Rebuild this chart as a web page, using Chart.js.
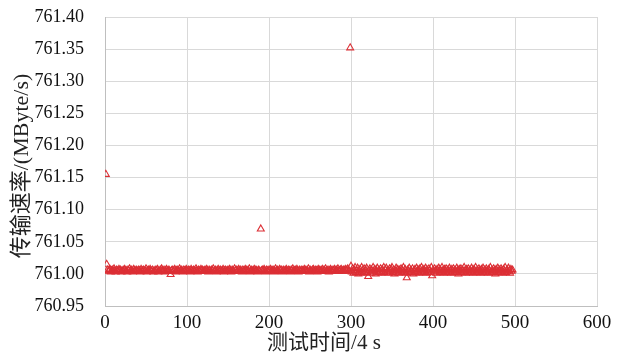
<!DOCTYPE html>
<html>
<head>
<meta charset="utf-8">
<script src="https://cdn.jsdelivr.net/npm/chart.js@4.4.1/dist/chart.umd.min.js"></script>
<style>
  html, body { margin: 0; padding: 0; background: #fff; }
  #wrap { width: 619px; height: 356px; position: relative; }
</style>
</head>
<body>
<div id="wrap"><canvas id="rateChart"></canvas></div>
<script>
// transfer rate per sample (MByte/s), samples 1..497
const rateValues = [
  761.155, 761.015, 761.006, 761.004, 761.005, 761.007, 761.003, 761.005, 761.006, 761.004, 761.008, 761.005, 761.003, 761.006, 761.005, 761.004, 761.007, 761.005, 761.006, 761.003,
  761.005, 761.004, 761.006, 761.007, 761.004, 761.005, 761.003, 761.006, 761.005, 761.008, 761.004, 761.006, 761.005, 761.003, 761.007, 761.005, 761.004, 761.006, 761.005, 761.004,
  761.006, 761.005, 761.003, 761.007, 761.004, 761.005, 761.006, 761.004, 761.005, 761.008, 761.003, 761.005, 761.006, 761.004, 761.007, 761.005, 761.004, 761.006, 761.003, 761.005,
  761.004, 761.006, 761.005, 761.007, 761.003, 761.005, 761.004, 761.006, 761.008, 761.005, 761.004, 761.006, 761.003, 761.005, 761.007, 761.004, 761.005, 761.006, 761.004, 760.999,
  761.005, 761.006, 761.004, 761.005, 761.007, 761.003, 761.005, 761.006, 761.004, 761.005, 761.008, 761.004, 761.006, 761.005, 761.003, 761.006, 761.005, 761.004, 761.007, 761.005,
  761.004, 761.006, 761.005, 761.003, 761.007, 761.005, 761.004, 761.006, 761.005, 761.004, 761.008, 761.005, 761.003, 761.006, 761.005, 761.004, 761.007, 761.005, 761.006, 761.004,
  761.005, 761.006, 761.004, 761.007, 761.005, 761.003, 761.006, 761.005, 761.004, 761.006, 761.005, 761.008, 761.004, 761.005, 761.006, 761.003, 761.005, 761.007, 761.004, 761.005,
  761.006, 761.004, 761.005, 761.007, 761.003, 761.005, 761.006, 761.004, 761.005, 761.006, 761.004, 761.007, 761.005, 761.003, 761.006, 761.005, 761.004, 761.008, 761.005, 761.006,
  761.004, 761.005, 761.007, 761.004, 761.006, 761.005, 761.003, 761.006, 761.005, 761.004, 761.007, 761.005, 761.006, 761.004, 761.005, 761.008, 761.003, 761.005, 761.006, 761.004,
  761.005, 761.007, 761.004, 761.006, 761.005, 761.003, 761.006, 761.005, 761.004, 761.070, 761.005, 761.006, 761.004, 761.007, 761.005, 761.003, 761.006, 761.005, 761.004, 761.006,
  761.005, 761.007, 761.004, 761.005, 761.006, 761.003, 761.005, 761.008, 761.004, 761.006, 761.005, 761.004, 761.007, 761.005, 761.006, 761.003, 761.005, 761.006, 761.004, 761.005,
  761.007, 761.005, 761.004, 761.006, 761.005, 761.003, 761.006, 761.005, 761.008, 761.004, 761.005, 761.006, 761.004, 761.007, 761.005, 761.003, 761.006, 761.005, 761.004, 761.006,
  761.005, 761.004, 761.007, 761.005, 761.006, 761.004, 761.005, 761.008, 761.003, 761.006, 761.005, 761.004, 761.006, 761.007, 761.005, 761.004, 761.006, 761.005, 761.003, 761.007,
  761.005, 761.006, 761.004, 761.005, 761.007, 761.004, 761.006, 761.005, 761.008, 761.004, 761.005, 761.006, 761.003, 761.005, 761.007, 761.005, 761.004, 761.006, 761.005, 761.007,
  761.004, 761.006, 761.005, 761.008, 761.004, 761.005, 761.006, 761.007, 761.004, 761.005, 761.006, 761.004, 761.007, 761.005, 761.006, 761.008, 761.005, 761.004, 761.352, 761.012,
  761.003, 761.008, 761.001, 761.006, 761.010, 761.002, 761.005, 761.009, 761.000, 761.004, 761.007, 761.002, 761.010, 761.005, 761.001, 761.008, 761.003, 761.006, 761.009, 761.002,
  760.996, 761.005, 761.008, 761.001, 761.006, 761.003, 761.010, 761.004, 761.007, 761.000, 761.005, 761.009, 761.002, 761.006, 761.003, 761.008, 761.001, 761.007, 761.004, 761.010,
  761.002, 761.006, 761.009, 761.003, 761.005, 761.001, 761.008, 761.004, 761.007, 761.010, 761.002, 761.006, 761.000, 761.005, 761.009, 761.003, 761.007, 761.001, 761.006, 761.004,
  761.008, 761.002, 761.005, 761.010, 761.003, 761.007, 761.001, 760.994, 761.006, 761.004, 761.009, 761.002, 761.006, 761.003, 761.008, 761.000, 761.005, 761.007, 761.002, 761.009,
  761.004, 761.006, 761.001, 761.008, 761.003, 761.010, 761.005, 761.002, 761.007, 761.004, 761.009, 761.001, 761.006, 761.003, 761.008, 761.005, 761.002, 761.010, 760.997, 761.006,
  761.003, 761.008, 761.005, 761.001, 761.007, 761.004, 761.009, 761.002, 761.006, 761.003, 761.010, 761.005, 761.001, 761.007, 761.004, 761.008, 761.002, 761.006, 761.003, 761.009,
  761.005, 761.001, 761.007, 761.004, 761.008, 761.002, 761.006, 761.003, 761.009, 761.005, 761.000, 761.007, 761.004, 761.008, 761.002, 761.006, 761.003, 761.010, 761.005, 761.001,
  761.007, 761.004, 761.008, 761.002, 761.006, 761.003, 761.009, 761.005, 761.001, 761.007, 761.004, 761.010, 761.002, 761.006, 761.003, 761.008, 761.005, 761.001, 761.007, 761.004,
  761.009, 761.002, 761.006, 761.003, 761.008, 761.005, 761.001, 761.007, 761.004, 761.010, 761.002, 761.006, 761.003, 761.008, 761.005, 761.000, 761.007, 761.004, 761.009, 761.002,
  761.006, 761.003, 761.008, 761.005, 761.001, 761.007, 761.004, 761.010, 761.002, 761.006, 761.003, 761.009, 761.005, 761.001, 761.007, 761.004, 761.006
];

const xTicks = [0, 100, 200, 300, 400, 500, 600];
const yTicks = [760.95, 761.00, 761.05, 761.10, 761.15, 761.20, 761.25, 761.30, 761.35, 761.40];

const xTitle = '测试时间/4 s';
const yTitle = '传输速率/(MByte/s)';

const RED = '#dc2f35';
const GRID = '#d9d9d9';
const TICK_FONT = { family: "'Liberation Serif', 'Times New Roman', serif", size: 18 };

// sample n is plotted at x = n
const points = rateValues.map((v, i) => ({ x: i + 1, y: v }));

// axis titles, drawn by hand so they can sit where the original has them
const axisTitles = {
  id: 'axisTitles',
  afterDraw(chart) {
    const ctx = chart.ctx;
    ctx.save();
    ctx.fillStyle = '#222';
    ctx.textAlign = 'center';
    ctx.textBaseline = 'middle';
    ctx.font = "21px 'Liberation Serif', 'Noto Sans CJK SC', serif";
    ctx.fillText(xTitle, 324, 343);
    ctx.translate(22, 166);
    ctx.rotate(-Math.PI / 2);
    ctx.font = "22px 'Liberation Serif', 'Noto Sans CJK SC', serif";
    ctx.fillText(yTitle, 0, 0);
    ctx.restore();
  }
};

new Chart(document.getElementById('rateChart'), {
  type: 'scatter',
  data: {
    datasets: [{
      data: points,
      pointStyle: 'triangle',
      pointRadius: 4,
      pointBorderWidth: 1.1,
      borderColor: RED,
      backgroundColor: 'rgba(255,255,255,0)'
    }]
  },
  options: {
    responsive: true,
    maintainAspectRatio: false,
    animation: false,
    layout: { padding: { top: 17, right: 22, left: 0, bottom: 0 } },
    plugins: {
      legend: { display: false },
      tooltip: { enabled: false }
    },
    scales: {
      x: {
        type: 'linear',
        min: 0,
        max: 600,
        afterBuildTicks(scale) { scale.ticks = xTicks.map(v => ({ value: v })); },
        afterFit(scale) { scale.height = 50; },
        grid: { color: GRID, drawTicks: false },
        border: { color: '#bfbfbf' },
        ticks: { color: '#111', font: { ...TICK_FONT, size: 19 }, padding: 6, maxRotation: 0 }
      },
      y: {
        type: 'linear',
        min: 760.95,
        max: 761.40,
        afterBuildTicks(scale) { scale.ticks = yTicks.map(v => ({ value: v })); },
        afterFit(scale) {
          scale.width = 105;
          // tick padding is horizontal here, keep it out of the top/bottom gap
          scale.paddingTop = 0;
          scale.paddingBottom = 0;
        },
        grid: { color: GRID, drawTicks: false },
        border: { color: '#bfbfbf' },
        ticks: {
          color: '#111',
          font: TICK_FONT,
          padding: 21,
          callback: v => v.toFixed(2)
        }
      }
    }
  },
  plugins: [axisTitles]
});
</script>
</body>
</html>
